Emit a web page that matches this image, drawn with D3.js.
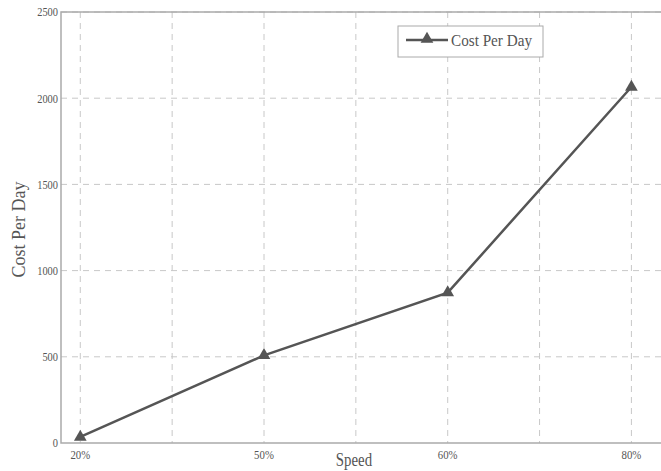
<!DOCTYPE html>
<html>
<head>
<meta charset="utf-8">
<script src="https://cdn.jsdelivr.net/npm/d3@7"></script>
<style>
  body { margin: 0; background: #fff; }
  text { font-family: "Liberation Serif", "DejaVu Serif", serif; fill: #555; }
</style>
</head>
<body>
<svg width="661" height="471"></svg>
<script>
// data
const slots = [1, 2, 3, 4, 5, 6, 7];
const speedLabels = {1: '20%', 3: '50%', 5: '60%', 7: '80%'};
const speedPos = [1, 3, 5, 7];
const costPerDay = [35, 508, 872, 2065];
const yTicks = [0, 500, 1000, 1500, 2000, 2500];

const svg = d3.select('svg');

const mLeft = 61, mTop = 12, mBottom = 443, mRight = 670;

const x = d3.scaleLinear().domain([0.79, 7.42]).range([mLeft, mRight]);
const y = d3.scaleLinear().domain([0, 2500]).range([mBottom, mTop]);

// grid
svg.append('g')
  .selectAll('line')
  .data(slots)
  .join('line')
  .attr('x1', d => x(d)).attr('x2', d => x(d))
  .attr('y1', mTop).attr('y2', mBottom)
  .attr('stroke', '#c8c8c8')
  .attr('stroke-dasharray', '6,5');

svg.append('g')
  .selectAll('line')
  .data(yTicks.slice(1))
  .join('line')
  .attr('x1', mLeft).attr('x2', mRight)
  .attr('y1', d => y(d)).attr('y2', d => y(d))
  .attr('stroke', '#c8c8c8')
  .attr('stroke-dasharray', '6,5');

// axes box
svg.append('path')
  .attr('d', `M${mRight},${mTop}H${mLeft}V${mBottom}H${mRight}`)
  .attr('fill', 'none')
  .attr('stroke', '#aaa')
  .attr('stroke-width', 1.5);

// y tick labels
svg.append('g')
  .selectAll('text')
  .data(yTicks)
  .join('text')
  .attr('x', mLeft - 3)
  .attr('y', d => y(d) + 4.5)
  .attr('text-anchor', 'end')
  .attr('font-size', 13)
  .attr('transform', `translate(${mLeft - 3},0) scale(0.8,1) translate(${-(mLeft - 3)},0)`)
  .text(d => d);

// x tick labels
svg.append('g')
  .selectAll('text')
  .data(speedPos)
  .join('text')
  .attr('x', d => x(d))
  .attr('y', mBottom + 16)
  .attr('text-anchor', 'middle')
  .attr('font-size', 13.5)
  .attr('transform', d => `translate(${x(d)},0) scale(0.8,1) translate(${-x(d)},0)`)
  .text(d => speedLabels[d]);

// axis titles
svg.append('text')
  .attr('x', 354).attr('y', 466)
  .attr('text-anchor', 'middle')
  .attr('font-size', 16.5)
  .attr('transform', 'translate(354,0) scale(0.9,1.1) translate(-354,-42)')
  .text('Speed');

svg.append('text')
  .attr('transform', `translate(25,${(mTop + mBottom) / 2 + 2}) rotate(-90)`)
  .attr('text-anchor', 'middle')
  .attr('font-size', 18)
  .text('Cost Per Day');

// line
const line = d3.line()
  .x((d, i) => x(speedPos[i]))
  .y(d => y(d));

svg.append('path')
  .datum(costPerDay)
  .attr('d', line)
  .attr('fill', 'none')
  .attr('stroke', '#555')
  .attr('stroke-width', 2.5);

const tri = d3.symbol().type(d3.symbolTriangle).size(70);
svg.append('g')
  .selectAll('path')
  .data(costPerDay)
  .join('path')
  .attr('d', tri)
  .attr('transform', (d, i) => `translate(${x(speedPos[i])},${y(d)})`)
  .attr('fill', '#555');

// legend
const lg = svg.append('g').attr('transform', 'translate(398,26)');
lg.append('rect')
  .attr('width', 145).attr('height', 31)
  .attr('fill', '#fff')
  .attr('stroke', '#aaa');
lg.append('line')
  .attr('x1', 8).attr('x2', 50).attr('y1', 14).attr('y2', 14)
  .attr('stroke', '#555').attr('stroke-width', 2.5);
lg.append('path')
  .attr('d', tri)
  .attr('transform', 'translate(29,13)')
  .attr('fill', '#555');
lg.append('text')
  .attr('x', 53).attr('y', 20)
  .attr('font-size', 16)
  .attr('transform', 'translate(53,0) scale(0.95,1) translate(-53,0)')
  .text('Cost Per Day');
</script>
</body>
</html>
